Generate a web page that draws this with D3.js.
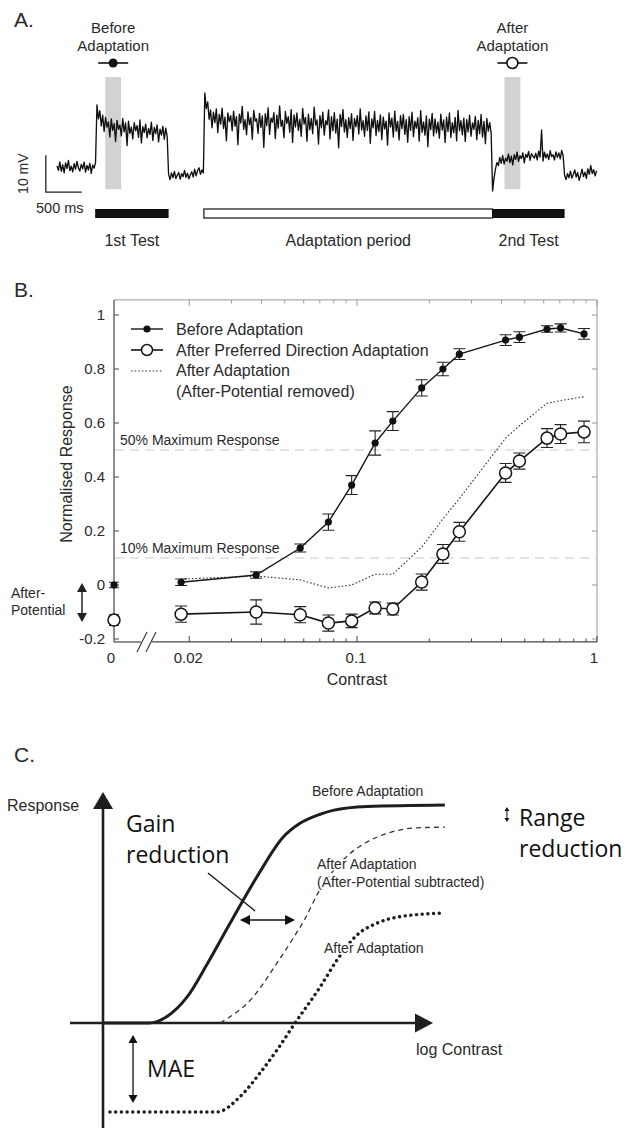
<!DOCTYPE html>
<html>
<head>
<meta charset="utf-8">
<script src="https://cdn.jsdelivr.net/npm/d3@7"></script>
<style>
  body { margin: 0; background: #fff; }
  svg text { font-family: "Liberation Sans", Arial, sans-serif; fill: #2a2a2a; }
  svg text.big { font-family: "Open Sans", "DejaVu Sans", sans-serif; fill: #111; }
</style>
</head>
<body>
<svg id="fig" width="627" height="1128"></svg>
<script>
// ================= Panel A: intracellular recording =================
// membrane potential (mV relative to rest), sampled evenly within each epoch
const epochTimes = [0, 555, 1550, 2053, 6050, 7050, 7514]; // ms
const tracePre   = [0.3,-0.9,1.4,-1.2,0.6,-1.6,1.1,-0.4,1.8,-1.0,0.2,-1.3,0.9,-0.6,1.5,-0.2,-1.1,0.7,-0.5,1.3,-1.4,0.4,-0.8,1.0,-1.7,0.5,-0.3,1.2];
const traceTest1 = [16.8,13.0,15.2,11.1,14.0,9.6,13.4,10.8,12.2,8.1,13.0,9.9,11.7,6.9,12.6,10.2,11.3,8.4,13.1,9.5,
  11.9,5.8,12.4,9.1,10.8,7.6,12.0,9.8,11.2,8.0,12.7,6.5,10.9,9.3,11.6,7.9,10.4,8.8,12.1,7.2,
  10.7,9.0,11.4,6.8,10.2,8.6,11.0,7.5,10.5,8.3];
const traceGap   = [-2.0,-3.4,-1.6,-2.9,-1.2,-3.1,-2.2,-1.5,-3.3,-1.8,-2.6,-0.9,-2.8,-1.7,-3.2,-2.1,-1.3,-2.7,-0.6,-2.4,-1.0,-0.2,-2.0,-0.8,-1.6];
const traceAdapt = [20.0,15.8,17.6,12.9,15.4,10.6,14.8,12.0,15.7,9.3,14.2,11.6,15.9,10.4,13.5,7.1,14.6,12.3,13.9,9.8,
  15.1,11.0,13.6,6.0,14.3,11.9,16.4,10.2,12.8,8.7,14.9,11.4,13.3,7.5,15.3,12.4,13.0,9.1,14.5,10.7,
  13.8,5.3,14.4,11.2,16.0,8.8,13.2,12.1,14.7,7.7,14.0,10.5,16.5,11.0,12.6,7.9,15.0,11.8,13.6,9.4,
  15.5,6.6,14.1,10.8,14.6,9.9,12.9,8.3,15.8,11.6,13.4,7.0,14.3,10.1,13.1,9.0,16.2,11.3,12.7,6.2,
  13.9,10.6,14.8,8.6,12.5,11.4,15.4,7.6,13.6,9.8,14.7,9.2,12.9,5.2,14.2,11.0,15.5,9.5,12.8,8.0,
  13.3,10.4,14.4,7.2,13.1,10.9,13.9,8.9,15.7,10.0,12.5,8.3,13.8,9.9,14.9,6.4,13.0,10.6,15.0,8.5,
  12.6,9.6,14.1,7.4,13.5,10.3,12.4,5.9,14.6,10.8,13.2,8.1,15.1,9.7,12.3,7.3,13.9,10.4,14.2,8.8,
  12.8,6.7,13.6,9.9,14.8,8.2,12.4,10.5,13.3,7.0,15.2,9.4,12.2,8.6,13.8,5.5,12.9,10.1,14.5,8.4,
  13.0,9.2,12.1,7.8,14.3,10.0,12.7,6.6,13.5,9.6,14.6,8.0,12.0,9.3,13.4,7.1,15.3,9.8,12.5,8.7,
  13.2,6.9,12.8,9.5,14.0,8.3,11.9,10.2,13.7,7.4,12.6,9.0,14.2,8.1,12.3,6.3,13.1,9.7,12.0,9.0];
const traceTest2 = [-6.5,-3.0,-0.5,1.2,0.4,2.6,1.0,3.1,0.8,2.4,1.6,3.5,1.2,2.9,0.6,3.3,2.0,4.0,1.5,3.0,
  2.3,3.8,1.1,3.4,2.6,4.2,1.8,3.6,2.9,2.4,3.7,1.9,4.3,2.7,10.0,1.6,4.0,2.5,3.5,2.0,
  4.4,2.8,3.3,1.9,4.1,2.6,3.8,2.2,4.5,3.0];
const traceTail  = [-2.3,-3.4,-1.8,-2.9,-1.1,-3.0,-2.0,-0.8,-2.7,-1.5,-3.6,-2.2,-0.6,-2.6,-1.4,-3.1,-0.5,-2.0,0.4,-1.8,-0.7,-2.4,-1.0];

// stimulus epochs drawn as bars
const stimLabels = ["1st Test", "Adaptation period", "2nd Test"];
const stimStart  = [530, 2040, 6050];
const stimEnd    = [1550, 6050, 7050];
const stimFilled = [true, false, true];

// analysis windows (ms)
const windowLabels = [["Before", "Adaptation"], ["After", "Adaptation"]];
const windowStart  = [670, 6215];
const windowEnd    = [890, 6435];

// ================= Panel B: contrast response =================
const contrasts   = [0.0185, 0.038, 0.058, 0.076, 0.095, 0.119, 0.141, 0.186, 0.228, 0.267, 0.416, 0.475, 0.619, 0.705, 0.883];
const beforeResp  = [0.01, 0.037, 0.137, 0.233, 0.37, 0.526, 0.607, 0.73, 0.80, 0.855, 0.907, 0.918, 0.948, 0.952, 0.93];
const beforeErr   = [0.012, 0.012, 0.015, 0.03, 0.035, 0.045, 0.035, 0.03, 0.025, 0.02, 0.02, 0.02, 0.012, 0.015, 0.02];
const afterResp   = [-0.108, -0.10, -0.11, -0.141, -0.133, -0.085, -0.089, 0.011, 0.115, 0.197, 0.415, 0.459, 0.544, 0.559, 0.567];
const afterErr    = [0.03, 0.045, 0.03, 0.03, 0.025, 0.022, 0.022, 0.03, 0.035, 0.035, 0.035, 0.03, 0.035, 0.035, 0.04];
const removedResp = [0.022, 0.033, 0.019, -0.011, 0.0, 0.04, 0.04, 0.14, 0.245, 0.32, 0.544, 0.59, 0.673, 0.683, 0.697];
// responses at zero contrast (spontaneous / after-potential)
const zeroBefore = 0.0,  zeroBeforeErr = 0.01;
const zeroAfter  = -0.13, zeroAfterErr = 0.02;

const yTicksB = [-0.2, 0, 0.2, 0.4, 0.6, 0.8, 1];
const xMajorB = [0.02, 0.1, 1];
const xMajorLabels = ["0.02", "0.1", "1"];
const xMinorB = [0.03,0.04,0.05,0.06,0.07,0.08,0.09,0.2,0.3,0.4,0.5,0.6,0.7,0.8,0.9];
const refLevels = [0.5, 0.1];
const refLabels = ["50% Maximum Response", "10% Maximum Response"];
const legendLabels = ["Before Adaptation", "After Preferred Direction Adaptation", "After Adaptation", "(After-Potential removed)"];

// ================= Panel C: schematic =================
const beforeCx  = [0, 1.4, 1.94, 2.55, 3.15, 3.85, 4.67, 5.45, 5.97, 6.58, 6.97, 8.0, 10.36];
const beforeCy  = [0, 0, 0.03, 0.12, 0.27, 0.46, 0.675, 0.855, 0.92, 0.962, 0.98, 0.998, 1.005];
const subtrCx   = [3.55, 4.55, 5.27, 5.76, 6.12, 6.52, 6.97, 7.48, 8.0, 8.61, 9.39, 10.36];
const subtrCy   = [0, 0.12, 0.276, 0.39, 0.48, 0.6, 0.7, 0.78, 0.834, 0.874, 0.898, 0.903];
const afterCx   = [0.21, 3.45, 4.15, 4.76, 5.27, 5.82, 6.58, 7.09, 7.70, 8.30, 9.0, 10.36];
const afterCy   = [-0.41, -0.41, -0.34, -0.23, -0.125, 0, 0.166, 0.29, 0.406, 0.46, 0.49, 0.507];

// ------------------------------------------------------------------
const svg = d3.select("#fig");

function arrowHead(g, x, y, dir, len, half, color) {
  // filled triangle, tip at (x,y); dir: "up","down","left","right"
  let pts;
  if (dir === "up")    pts = [[x, y], [x - half, y + len], [x + half, y + len]];
  if (dir === "down")  pts = [[x, y], [x - half, y - len], [x + half, y - len]];
  if (dir === "right") pts = [[x, y], [x - len, y - half], [x - len, y + half]];
  if (dir === "left")  pts = [[x, y], [x + len, y - half], [x + len, y + half]];
  g.append("path").attr("d", "M" + pts.map(p => p.join(",")).join("L") + "Z").attr("fill", color);
}

// ================= Panel A =================
{
  const g = svg.append("g");
  const xA = d3.scaleLinear().domain([0, 7514]).range([57, 598]);
  const yA = d3.scaleLinear().domain([0, 10]).range([167, 130]);

  g.append("text").attr("x", 14).attr("y", 27).attr("font-size", 21).text("A.");

  // analysis windows
  windowStart.forEach((s, i) => {
    g.append("rect")
      .attr("x", xA(s)).attr("width", xA(windowEnd[i]) - xA(s))
      .attr("y", yA(24.3)).attr("height", yA(-6) - yA(24.3))
      .attr("fill", "#d2d2d2");
    const cx = xA((s + windowEnd[i]) / 2);
    windowLabels[i].forEach((t, j) => {
      g.append("text").attr("x", cx).attr("y", 33 + j * 18).attr("text-anchor", "middle")
        .attr("font-size", 15).text(t);
    });
    g.append("line").attr("x1", cx - 15).attr("x2", cx + 15).attr("y1", 63).attr("y2", 63)
      .attr("stroke", "#111").attr("stroke-width", 1.6);
    if (i === 0) {
      g.append("circle").attr("cx", cx).attr("cy", 63).attr("r", 4.5).attr("fill", "#111");
    } else {
      g.append("circle").attr("cx", cx).attr("cy", 63).attr("r", 5.5).attr("fill", "#fff")
        .attr("stroke", "#111").attr("stroke-width", 1.6);
    }
  });

  // voltage trace
  const segs = [tracePre, traceTest1, traceGap, traceAdapt, traceTest2, traceTail];
  const pts = [];
  segs.forEach((vals, k) => {
    const t0 = epochTimes[k], t1 = epochTimes[k + 1], dt = (t1 - t0) / vals.length;
    vals.forEach((v, i) => pts.push([t0 + i * dt, v]));
  });
  g.append("path")
    .attr("d", d3.line().x(d => xA(d[0])).y(d => yA(d[1]))(pts))
    .attr("fill", "none").attr("stroke", "#111").attr("stroke-width", 1.35)
    .attr("stroke-linejoin", "round");

  // scale bar: 10 mV, 500 ms
  const sbT = -155, sbV = -6.8;
  g.append("path")
    .attr("d", `M${xA(sbT)},${yA(sbV + 10)}V${yA(sbV)}H${xA(sbT + 500)}`)
    .attr("fill", "none").attr("stroke", "#222").attr("stroke-width", 1.3);
  g.append("text").attr("transform", `translate(28,${yA(sbV + 5)}) rotate(-90)`)
    .attr("text-anchor", "middle").attr("font-size", 14).text("10 mV");
  g.append("text").attr("x", 36).attr("y", 213).attr("font-size", 14.5).text("500 ms");

  // stimulus bars
  stimLabels.forEach((lab, i) => {
    g.append("rect")
      .attr("x", xA(stimStart[i])).attr("width", xA(stimEnd[i]) - xA(stimStart[i]))
      .attr("y", 209).attr("height", 9)
      .attr("fill", stimFilled[i] ? "#111" : "#fff")
      .attr("stroke", "#111").attr("stroke-width", stimFilled[i] ? 0 : 1.2);
    g.append("text").attr("x", xA((stimStart[i] + stimEnd[i]) / 2)).attr("y", 246)
      .attr("text-anchor", "middle").attr("font-size", 16).text(lab);
  });
}

// ================= Panel B =================
{
  const g = svg.append("g");
  const xB = d3.scaleLog().domain([0.1, 1]).range([357, 597]);
  const yB = d3.scaleLinear().domain([-0.2, 1]).range([639, 315]);
  const x0 = 114;                       // zero-contrast column
  const left = 114, right = xB(1), top = yB(1.056), bottom = yB(-0.211);

  g.append("text").attr("x", 14).attr("y", 297).attr("font-size", 21).text("B.");

  // frame: top and right light, left and bottom dark
  g.append("line").attr("x1", left).attr("x2", right).attr("y1", top).attr("y2", top).attr("stroke", "#999");
  g.append("line").attr("x1", right).attr("x2", right).attr("y1", top).attr("y2", bottom).attr("stroke", "#999");
  g.append("line").attr("x1", left).attr("x2", left).attr("y1", top).attr("y2", bottom).attr("stroke", "#444").attr("stroke-width", 1.2);
  g.append("line").attr("x1", left).attr("x2", 141).attr("y1", bottom).attr("y2", bottom).attr("stroke", "#444").attr("stroke-width", 1.2);
  g.append("line").attr("x1", 152).attr("x2", right).attr("y1", bottom).attr("y2", bottom).attr("stroke", "#444").attr("stroke-width", 1.2);
  // axis break
  [0, 9].forEach(o => g.append("line").attr("x1", 137 + o).attr("y1", bottom + 10)
    .attr("x2", 147 + o).attr("y2", bottom - 10).attr("stroke", "#333").attr("stroke-width", 1.1));

  // y ticks (inward) and labels
  yTicksB.forEach(v => {
    g.append("line").attr("x1", left).attr("x2", left + 5).attr("y1", yB(v)).attr("y2", yB(v)).attr("stroke", "#444");
    g.append("line").attr("x1", right).attr("x2", right - 5).attr("y1", yB(v)).attr("y2", yB(v)).attr("stroke", "#999");
    g.append("text").attr("x", left - 9).attr("y", yB(v) + 5).attr("text-anchor", "end")
      .attr("font-size", 15).text(String(v));
  });
  // x ticks
  xMajorB.forEach((v, i) => {
    g.append("line").attr("x1", xB(v)).attr("x2", xB(v)).attr("y1", bottom).attr("y2", bottom - 6).attr("stroke", "#444");
    g.append("line").attr("x1", xB(v)).attr("x2", xB(v)).attr("y1", top).attr("y2", top + 6).attr("stroke", "#999");
    g.append("text").attr("x", xB(v) - (v === 1 ? 3 : 1)).attr("y", 663).attr("text-anchor", "middle")
      .attr("font-size", 15).text(xMajorLabels[i]);
  });
  xMinorB.forEach(v => {
    g.append("line").attr("x1", xB(v)).attr("x2", xB(v)).attr("y1", bottom).attr("y2", bottom - 3.5).attr("stroke", "#444");
    g.append("line").attr("x1", xB(v)).attr("x2", xB(v)).attr("y1", top).attr("y2", top + 3.5).attr("stroke", "#999");
  });
  g.append("text").attr("x", 111).attr("y", 663).attr("text-anchor", "middle").attr("font-size", 15).text("0");

  g.append("text").attr("x", 357).attr("y", 685).attr("text-anchor", "middle").attr("font-size", 16).text("Contrast");
  g.append("text").attr("transform", "translate(72,464) rotate(-90)").attr("text-anchor", "middle")
    .attr("font-size", 16).text("Normalised Response");

  // reference levels
  refLevels.forEach((v, i) => {
    g.append("line").attr("x1", left + 1).attr("x2", right - 1).attr("y1", yB(v)).attr("y2", yB(v))
      .attr("stroke", "#c9c9c9").attr("stroke-width", 1.2).attr("stroke-dasharray", "9,6");
    g.append("text").attr("x", 120).attr("y", yB(v) - 5).attr("font-size", 14).attr("fill", "#3a3a3a").text(refLabels[i]);
  });

  // after-potential annotation
  g.append("text").attr("x", 11).attr("y", 598).attr("font-size", 14).text("After-");
  g.append("text").attr("x", 11).attr("y", 615).attr("font-size", 14).text("Potential");
  g.append("line").attr("x1", 82).attr("x2", 82).attr("y1", yB(zeroBefore) + 6).attr("y2", yB(zeroAfter) - 6)
    .attr("stroke", "#222").attr("stroke-width", 1.5);
  arrowHead(g, 82, yB(zeroBefore) - 2, "up", 9, 5, "#222");
  arrowHead(g, 82, yB(zeroAfter) + 2, "down", 9, 5, "#222");

  const line = d3.line().x(d => xB(d[0])).y(d => yB(d[1]));
  const rem = contrasts.map((c, i) => [c, removedResp[i]]);
  const bef = contrasts.map((c, i) => [c, beforeResp[i]]);
  const aft = contrasts.map((c, i) => [c, afterResp[i]]);

  g.append("path").attr("d", line(rem)).attr("fill", "none").attr("stroke", "#333")
    .attr("stroke-width", 1.1).attr("stroke-dasharray", "1.6,2");
  g.append("path").attr("d", line(bef)).attr("fill", "none").attr("stroke", "#151515").attr("stroke-width", 1.4);
  g.append("path").attr("d", line(aft)).attr("fill", "none").attr("stroke", "#151515").attr("stroke-width", 1.6);

  function errBar(x, y, e, hw) {
    g.append("path")
      .attr("d", `M${x},${yB(y - e)}V${yB(y + e)}M${x - hw},${yB(y - e)}H${x + hw}M${x - hw},${yB(y + e)}H${x + hw}`)
      .attr("fill", "none").attr("stroke", "#222").attr("stroke-width", 1.1);
  }
  contrasts.forEach((c, i) => {
    errBar(xB(c), beforeResp[i], beforeErr[i], 6);
    errBar(xB(c), afterResp[i], afterErr[i], 6);
  });
  errBar(x0, zeroBefore, zeroBeforeErr, 5);
  errBar(x0, zeroAfter, zeroAfterErr, 5);

  contrasts.forEach((c, i) => {
    g.append("circle").attr("cx", xB(c)).attr("cy", yB(beforeResp[i])).attr("r", 3.6).attr("fill", "#111");
    g.append("circle").attr("cx", xB(c)).attr("cy", yB(afterResp[i])).attr("r", 6)
      .attr("fill", "#fff").attr("stroke", "#151515").attr("stroke-width", 1.5);
  });
  g.append("circle").attr("cx", x0).attr("cy", yB(zeroBefore)).attr("r", 3.6).attr("fill", "#111");
  g.append("circle").attr("cx", x0).attr("cy", yB(zeroAfter)).attr("r", 6)
    .attr("fill", "#fff").attr("stroke", "#151515").attr("stroke-width", 1.5);

  // legend
  const ly = [329, 350, 371];
  const lx1 = 131, lx2 = 163, lmid = 147;
  g.append("line").attr("x1", lx1).attr("x2", lx2).attr("y1", ly[0]).attr("y2", ly[0]).attr("stroke", "#151515").attr("stroke-width", 1.4);
  g.append("circle").attr("cx", lmid).attr("cy", ly[0]).attr("r", 3.6).attr("fill", "#111");
  g.append("line").attr("x1", lx1).attr("x2", lx2).attr("y1", ly[1]).attr("y2", ly[1]).attr("stroke", "#151515").attr("stroke-width", 1.6);
  g.append("circle").attr("cx", lmid).attr("cy", ly[1]).attr("r", 5.5).attr("fill", "#fff").attr("stroke", "#151515").attr("stroke-width", 1.5);
  g.append("line").attr("x1", lx1).attr("x2", lx2).attr("y1", ly[2]).attr("y2", ly[2]).attr("stroke", "#333")
    .attr("stroke-width", 1.1).attr("stroke-dasharray", "1.6,2");
  legendLabels.forEach((t, i) => {
    g.append("text").attr("x", 176).attr("y", 335 + i * 20.7).attr("font-size", 16).text(t);
  });
}

// ================= Panel C =================
{
  const g = svg.append("g");
  const xC = d3.scaleLinear().domain([0, 10]).range([103, 433]);
  const yC = d3.scaleLinear().domain([0, 1]).range([1023, 806]);
  const ink = "#1e1e1e";

  g.append("text").attr("x", 14).attr("y", 762).attr("font-size", 21).text("C.");

  // axes
  g.append("line").attr("x1", xC(0)).attr("x2", xC(0)).attr("y1", 1128).attr("y2", yC(1.065) + 14)
    .attr("stroke", ink).attr("stroke-width", 2.6);
  arrowHead(g, xC(0), yC(1.065), "up", 17, 10, ink);
  g.append("line").attr("x1", xC(-1)).attr("x2", xC(10) - 15).attr("y1", yC(0)).attr("y2", yC(0))
    .attr("stroke", ink).attr("stroke-width", 2.6);
  arrowHead(g, xC(10), yC(0), "right", 18, 9.5, ink);

  g.append("text").attr("x", 7).attr("y", 811).attr("font-size", 16).attr("fill", "#333").text("Response");
  g.append("text").attr("x", 416).attr("y", 1055).attr("font-size", 16).attr("fill", "#333").text("log Contrast");

  const lineC = d3.line().x(d => xC(d[0])).y(d => yC(d[1])).curve(d3.curveMonotoneX);
  g.append("path").attr("d", lineC(beforeCx.map((x, i) => [x, beforeCy[i]])))
    .attr("fill", "none").attr("stroke", ink).attr("stroke-width", 3);
  g.append("path").attr("d", lineC(subtrCx.map((x, i) => [x, subtrCy[i]])))
    .attr("fill", "none").attr("stroke", "#333").attr("stroke-width", 1.3).attr("stroke-dasharray", "5,4");
  g.append("path").attr("d", lineC(afterCx.map((x, i) => [x, afterCy[i]])))
    .attr("fill", "none").attr("stroke", ink).attr("stroke-width", 3.4)
    .attr("stroke-linecap", "round").attr("stroke-dasharray", "0.1,5.6");

  // curve labels (white halo so the dashed curve passes behind)
  const curveLabel = (x, y, t) => g.append("text").attr("x", x).attr("y", y).attr("font-size", 14)
    .attr("fill", "#333").attr("stroke", "#fff").attr("stroke-width", 3).attr("paint-order", "stroke").text(t);
  curveLabel(312, 796, "Before Adaptation");
  curveLabel(317, 869, "After Adaptation");
  curveLabel(317, 887, "(After-Potential subtracted)");
  curveLabel(324, 953, "After Adaptation");

  // gain reduction
  g.append("text").attr("class", "big").attr("x", 126).attr("y", 832).attr("font-size", 23).text("Gain");
  g.append("text").attr("class", "big").attr("x", 126).attr("y", 863).attr("font-size", 23).text("reduction");
  g.append("line").attr("x1", xC(3.18)).attr("y1", yC(0.691)).attr("x2", xC(4.61)).attr("y2", yC(0.516))
    .attr("stroke", "#111").attr("stroke-width", 1.3);
  const gy = yC(0.475);
  g.append("line").attr("x1", xC(4.15) + 8).attr("x2", xC(5.82) - 8).attr("y1", gy).attr("y2", gy)
    .attr("stroke", "#111").attr("stroke-width", 1.6);
  arrowHead(g, xC(4.15), gy, "left", 10, 5, "#111");
  arrowHead(g, xC(5.82), gy, "right", 10, 5, "#111");

  // range reduction
  const rx = xC(12.24);
  g.append("line").attr("x1", rx).attr("x2", rx).attr("y1", yC(0.995) + 3).attr("y2", yC(0.926) - 3)
    .attr("stroke", "#111").attr("stroke-width", 1);
  arrowHead(g, rx, yC(0.995), "up", 4, 2.5, "#111");
  arrowHead(g, rx, yC(0.926), "down", 4, 2.5, "#111");
  g.append("text").attr("class", "big").attr("x", 519).attr("y", 826).attr("font-size", 23).text("Range");
  g.append("text").attr("class", "big").attr("x", 519).attr("y", 857).attr("font-size", 23).text("reduction");

  // motion after-effect
  const mx = xC(0.91);
  g.append("line").attr("x1", mx).attr("x2", mx).attr("y1", yC(-0.055) + 7).attr("y2", yC(-0.369) - 7)
    .attr("stroke", "#111").attr("stroke-width", 1.3);
  arrowHead(g, mx, yC(-0.055), "up", 8, 4.5, "#111");
  arrowHead(g, mx, yC(-0.369), "down", 8, 4.5, "#111");
  g.append("text").attr("class", "big").attr("x", 147).attr("y", 1077).attr("font-size", 23).text("MAE");
}
</script>
</body>
</html>
